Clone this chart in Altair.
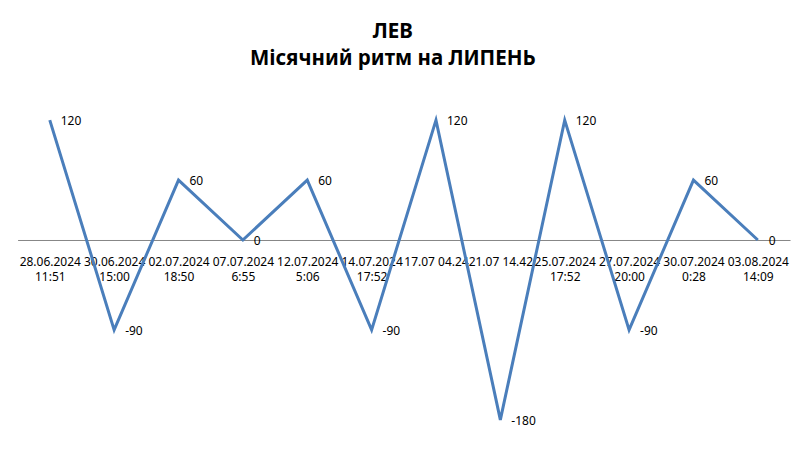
import altair as alt
import pandas as pd

labels = [
    "28.06.2024|11:51", "30.06.2024|15:00", "02.07.2024|18:50", "07.07.2024|6:55",
    "12.07.2024|5:06", "14.07.2024|17:52", "17.07 04.24", "21.07 14.42",
    "25.07.2024|17:52", "27.07.2024|20:00", "30.07.2024|0:28", "03.08.2024|14:09",
]
values = [120, -90, 60, 0, 60, -90, 120, -180, 120, -90, 60, 0]

df = pd.DataFrame({"date": labels, "value": values})
df["label"] = [str(v) for v in values]

x = alt.X(
    "date:N", sort=None, title=None,
    scale=alt.Scale(type="point", padding=0.5),
    axis=alt.Axis(
        offset=-200, ticks=False, domainColor="#868686", domainWidth=1,
        labelAngle=0, labelFont="Noto Sans", labelFontSize=12, labelColor="#000000",
        labelPadding=17, labelLineHeight=15, labelOverlap=False, labelBound=False,
        labelFlush=False, grid=False,
        labelExpr="split(datum.label, '|')",
    ),
)
y = alt.Y("value:Q", scale=alt.Scale(domain=[-200, 140], nice=False, zero=False), axis=None)

line = alt.Chart(df).mark_line(color="#4A7EBB", strokeWidth=3, strokeJoin="miter").encode(x=x, y=y)
text = alt.Chart(df).mark_text(
    align="left", baseline="middle", dx=11, dy=1, font="Noto Sans", fontSize=12, color="#000000"
).encode(x=x, y=y, text="label:N")

chart = (line + text).properties(
    width=773, height=340,
    autosize=alt.AutoSizeParams(type="none"),
    padding={"left": 9.6, "top": 92, "right": 10, "bottom": 10},
    title=alt.TitleParams(
        text=["ЛЕВ", "Місячний ритм на ЛИПЕНЬ"], font="Noto Sans", fontSize=20.5,
        fontWeight="bold", anchor="middle", dx=-11, offset=31, lineHeight=27, color="#000000",
    ),
).configure_view(stroke="transparent")

chart.save("out.html", embed_options={"renderer": "svg", "actions": False})
